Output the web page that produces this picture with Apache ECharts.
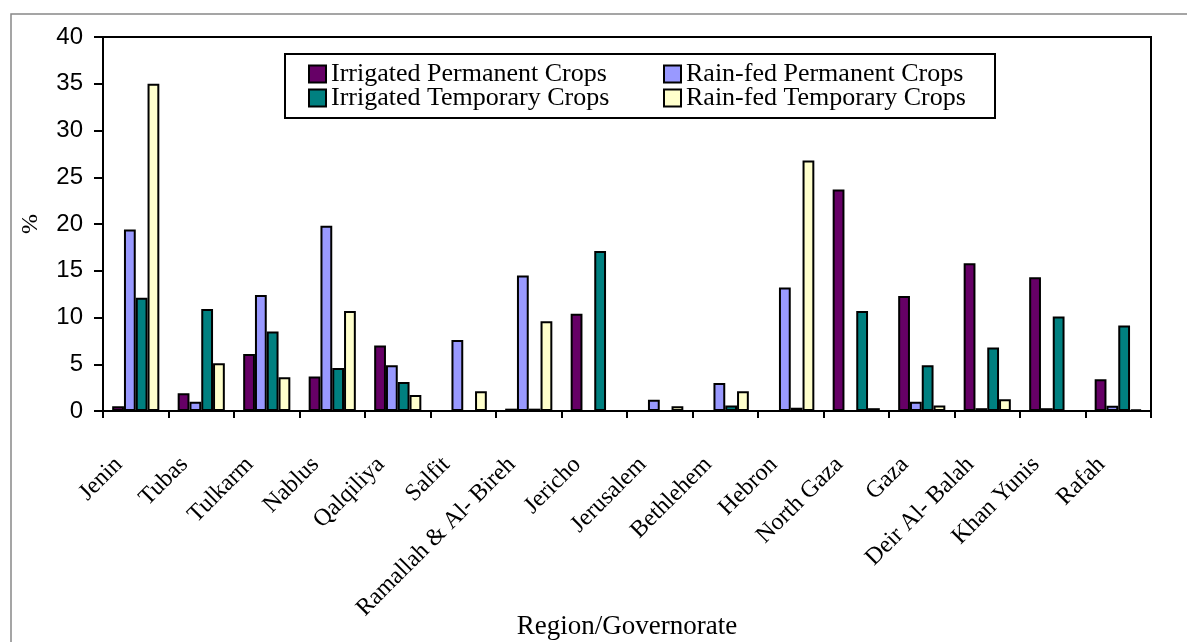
<!DOCTYPE html>
<html>
<head>
<meta charset="utf-8">
<script src="https://cdn.jsdelivr.net/npm/echarts@6/dist/echarts.min.js"></script>
<style>
html,body{margin:0;padding:0;background:#fff;}
#chart{width:1187px;height:642px;}
</style>
</head>
<body>
<div id="chart"></div>
<script>
var categories = ['Jenin','Tubas','Tulkarm','Nablus','Qalqiliya','Salfit','Ramallah & Al- Bireh','Jericho','Jerusalem','Bethlehem','Hebron','North Gaza','Gaza','Deir Al- Balah','Khan Yunis','Rafah'];
var irrigatedPermanent = [0.5, 1.9, 6.1, 3.7, 7.0, 0, 0.25, 10.4, 0, 0, 0, 23.7, 12.3, 15.8, 14.3, 3.4];
var rainfedPermanent   = [19.4, 1.0, 12.4, 19.8, 4.9, 7.6, 14.5, 0, 1.2, 3.0, 13.2, 0, 1.0, 0.3, 0.3, 0.55];
var irrigatedTemporary = [12.1, 10.9, 8.5, 4.6, 3.1, 0, 0.25, 17.1, 0, 0.6, 0.35, 10.7, 4.9, 6.8, 10.1, 9.15];
var rainfedTemporary   = [35.0, 5.1, 3.6, 10.7, 1.7, 2.1, 9.6, 0, 0.5, 2.1, 26.8, 0.3, 0.6, 1.25, 0, 0.15];
var yTicks = {min: 0, max: 40, step: 5};

var serif = '"Liberation Serif", "Times New Roman", serif';
var sans = '"Liberation Sans", Arial, sans-serif';

function bar(name, data, color) {
  return {
    name: name, type: 'bar', data: data,
    barGap: '0%', barCategoryGap: '28%',
    itemStyle: {color: color, borderColor: '#000', borderWidth: 2},
    emphasis: {disabled: true}
  };
}

var legendText = {fontFamily: serif, fontSize: 26, color: '#000', lineHeight: 24};

var chart = echarts.init(document.getElementById('chart'), null, {renderer: 'canvas'});
chart.setOption({
  animation: false,
  backgroundColor: '#fff',
  graphic: [
    {type: 'rect', shape: {x: 11, y: 14, width: 1300, height: 800}, style: {fill: 'none', stroke: '#888', lineWidth: 1.5}, silent: true, z: -10},
    {type: 'rect', shape: {x: 285, y: 54, width: 710, height: 64}, style: {fill: '#fff', stroke: '#000', lineWidth: 2}, z: 5}
  ],
  grid: {left: 103, top: 37, right: 36, bottom: 231, containLabel: false, outerBoundsMode: 'none', show: true, borderColor: '#000', borderWidth: 2, backgroundColor: 'transparent'},
  legend: [
    {
      data: ['Irrigated Permanent Crops', 'Irrigated Temporary Crops'],
      orient: 'vertical', left: 308, top: 61, padding: 0, itemWidth: 17, itemHeight: 17, itemGap: -2,
      icon: 'rect', textStyle: legendText, z: 10
    },
    {
      data: ['Rain-fed Permanent Crops', 'Rain-fed Temporary Crops'],
      orient: 'vertical', left: 663, top: 61, padding: 0, itemWidth: 17, itemHeight: 17, itemGap: -2,
      icon: 'rect', textStyle: legendText, z: 10
    }
  ],
  xAxis: {
    type: 'category', data: categories,
    name: 'Region/Governorate', nameLocation: 'middle', nameGap: 202, nameMoveOverlap: false,
    nameTextStyle: {fontFamily: serif, fontSize: 27, color: '#000'},
    axisLine: {lineStyle: {color: '#000', width: 2}},
    axisTick: {show: true, inside: false, length: 7, alignWithLabel: false, lineStyle: {color: '#000', width: 2}},
    axisLabel: {interval: 0, rotate: 45, margin: 33, padding: [0, 24, 0, 0], fontFamily: serif, fontSize: 24, color: '#000'},
    splitLine: {show: false}
  },
  yAxis: {
    type: 'value', min: yTicks.min, max: yTicks.max, interval: yTicks.step,
    name: '%', nameLocation: 'middle', nameGap: 60, nameRotate: 90, nameMoveOverlap: false,
    nameTextStyle: {fontFamily: serif, fontSize: 24, color: '#000'},
    axisLine: {show: true, lineStyle: {color: '#000', width: 2}},
    axisTick: {show: true, inside: false, length: 9, lineStyle: {color: '#000', width: 2}},
    axisLabel: {margin: 20, fontFamily: sans, fontSize: 24, color: '#000'},
    splitLine: {show: false}
  },
  series: [
    bar('Irrigated Permanent Crops', irrigatedPermanent, '#660066'),
    bar('Rain-fed Permanent Crops', rainfedPermanent, '#9999FF'),
    bar('Irrigated Temporary Crops', irrigatedTemporary, '#008080'),
    bar('Rain-fed Temporary Crops', rainfedTemporary, '#FFFFCC')
  ]
});
</script>
</body>
</html>
